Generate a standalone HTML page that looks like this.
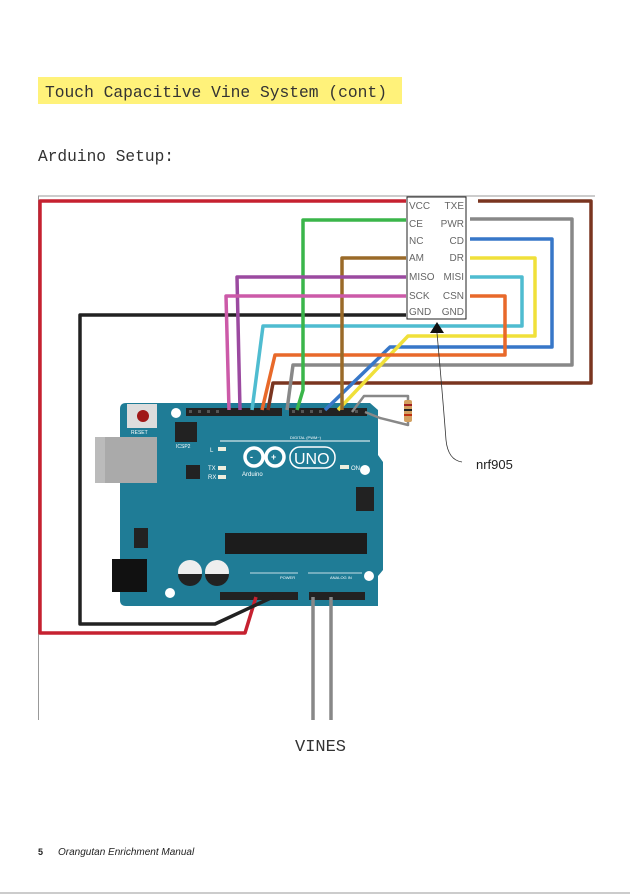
<!DOCTYPE html>
<html><head><style>
body{margin:0;background:#fff;}
svg{display:block}
</style></head><body>
<svg width="630" height="896" viewBox="0 0 630 896" xmlns="http://www.w3.org/2000/svg">
<rect x="38" y="77" width="364" height="27" fill="#fff27a"/>
<text x="45" y="97" font-family="Liberation Mono, monospace" font-size="16.3" fill="#333">Touch Capacitive Vine System (cont)</text>
<text x="38" y="161" font-family="Liberation Mono, monospace" font-size="16.2" fill="#333">Arduino Setup:</text>
<!-- frame -->
<line x1="38" y1="196" x2="595" y2="196" stroke="#999" stroke-width="1"/>
<line x1="38.5" y1="196" x2="38.5" y2="720" stroke="#999" stroke-width="1"/>

<!-- board -->
<path d="M126 403 H370 L378 410 V455 L383 462 V570 L378 576 V606 H126 Q120 606 120 600 V409 Q120 403 126 403 Z" fill="#1f7c96"/>
<rect x="95" y="437" width="62" height="46" fill="#aaa"/>
<rect x="95" y="437" width="10" height="46" fill="#bbb"/>
<rect x="127" y="404" width="30" height="24" fill="#ddd"/>
<circle cx="143" cy="416" r="6" fill="#a01818"/>
<text x="131" y="434" font-family="Liberation Sans, sans-serif" font-size="5" fill="#fff">RESET</text>
<circle cx="176" cy="413" r="5" fill="#fff"/>
<circle cx="365" cy="470" r="5" fill="#fff"/>
<circle cx="369" cy="576" r="5" fill="#fff"/>
<circle cx="170" cy="593" r="5" fill="#fff"/>
<rect x="186" y="408" width="96" height="8" fill="#222"/>
<rect x="289" y="408" width="78" height="8" fill="#222"/>
<g fill="#555"><rect x="189" y="410" width="3" height="3"/><rect x="198" y="410" width="3" height="3"/><rect x="207" y="410" width="3" height="3"/><rect x="216" y="410" width="3" height="3"/><rect x="292" y="410" width="3" height="3"/><rect x="301" y="410" width="3" height="3"/><rect x="310" y="410" width="3" height="3"/><rect x="319" y="410" width="3" height="3"/><rect x="355" y="410" width="3" height="3"/></g>
<rect x="175" y="422" width="22" height="20" fill="#222"/>
<text x="176" y="448" font-family="Liberation Sans, sans-serif" font-size="5" fill="#fff">ICSP2</text>
<line x1="220" y1="441" x2="370" y2="441" stroke="#fff" stroke-width="1"/>
<text x="290" y="439" font-family="Liberation Sans, sans-serif" font-size="4" fill="#fff">DIGITAL (PWM~)</text>
<rect x="186" y="465" width="14" height="14" fill="#222"/>
<text x="210" y="452" font-family="Liberation Sans, sans-serif" font-size="6" fill="#fff">L</text>
<text x="208" y="470" font-family="Liberation Sans, sans-serif" font-size="6" fill="#fff">TX</text>
<text x="208" y="479" font-family="Liberation Sans, sans-serif" font-size="6" fill="#fff">RX</text>
<rect x="218" y="447" width="8" height="4" fill="#eed"/><rect x="218" y="466" width="8" height="4" fill="#eed"/><rect x="218" y="475" width="8" height="4" fill="#eed"/>
<circle cx="254" cy="457" r="9" fill="none" stroke="#fff" stroke-width="3.5"/>
<circle cx="275" cy="457" r="9" fill="none" stroke="#fff" stroke-width="3.5"/>
<text x="250" y="460" font-family="Liberation Sans, sans-serif" font-size="9" fill="#fff" font-weight="bold">-</text>
<text x="271" y="460" font-family="Liberation Sans, sans-serif" font-size="9" fill="#fff" font-weight="bold">+</text>
<rect x="290" y="447" width="45" height="21" rx="10" fill="none" stroke="#fff" stroke-width="1.5"/>
<text x="294" y="464" font-family="Liberation Sans, sans-serif" font-size="16" fill="#fff">UNO</text>
<text x="242" y="476" font-family="Liberation Sans, sans-serif" font-size="6" fill="#fff">Arduino</text>
<rect x="340" y="465" width="9" height="4" fill="#eed"/>
<text x="351" y="470" font-family="Liberation Sans, sans-serif" font-size="6" fill="#fff">ON</text>
<rect x="356" y="487" width="18" height="24" fill="#222"/>
<rect x="225" y="533" width="142" height="21" fill="#1c1c1c"/>
<rect x="134" y="528" width="14" height="20" fill="#222"/>
<rect x="112" y="559" width="35" height="33" fill="#111"/>
<circle cx="190" cy="572" r="12" fill="#eee"/><path d="M178 574 H202 A12 12 0 0 1 178 574Z" fill="#222"/>
<circle cx="217" cy="572" r="12" fill="#eee"/><path d="M205 574 H229 A12 12 0 0 1 205 574Z" fill="#222"/>
<line x1="250" y1="573" x2="298" y2="573" stroke="#fff" stroke-width="0.8"/>
<line x1="308" y1="573" x2="362" y2="573" stroke="#fff" stroke-width="0.8"/>
<text x="280" y="579" font-family="Liberation Sans, sans-serif" font-size="4" fill="#fff">POWER</text>
<text x="330" y="579" font-family="Liberation Sans, sans-serif" font-size="4" fill="#fff">ANALOG IN</text>
<rect x="220" y="592" width="78" height="8" fill="#222"/>
<rect x="309" y="592" width="56" height="8" fill="#222"/>

<!-- wires -->
<g fill="none" stroke-width="3.5" stroke-linejoin="round">
<polyline points="406,201 40,201 40,633 245,633 256,597" stroke="#c62130"/>
<polyline points="406,315 80,315 80,624 215,624 273,597" stroke="#222"/>
<polyline points="478,201 591,201 591,383 273,383 268,410" stroke="#7a3520"/>
<polyline points="470,219 572,219 572,365 293,365 287,410" stroke="#888"/>
<polyline points="470,239 552,239 552,347 390,347 325,410" stroke="#3777c8"/>
<polyline points="470,258 535,258 535,336 408,336 338,410" stroke="#f0e03a"/>
<polyline points="470,277 522,277 522,326 263,326 252,410" stroke="#4fbcd0"/>
<polyline points="470,296 505,296 505,355 275,355 262,410" stroke="#e8692a"/>
<polyline points="406,220 303,220 303,390 297,410" stroke="#3ab54a"/>
<polyline points="406,258 342,258 342,410" stroke="#9a6a28"/>
<polyline points="406,277 237,277 240,410" stroke="#9b4aa0"/>
<polyline points="406,296 226,296 229,410" stroke="#cc5aa8"/>
<polyline points="352,412 364,396 408,396 408,425 380,418 365,412" stroke="#888" stroke-width="2.5"/>
<line x1="313" y1="597" x2="313" y2="720" stroke="#888"/>
<line x1="331" y1="597" x2="331" y2="720" stroke="#888"/>
</g>
<rect x="404" y="400" width="8" height="22" rx="2" fill="#d2a060"/>
<rect x="404" y="404" width="8" height="2" fill="#a02020"/><rect x="404" y="409" width="8" height="2" fill="#222"/><rect x="404" y="414" width="8" height="2" fill="#c03010"/>

<!-- module -->
<rect x="407" y="197" width="59" height="122" fill="#fff" stroke="#222" stroke-width="1"/>
<g font-family="Liberation Sans, sans-serif" font-size="10" fill="#666">
<text x="409" y="209">VCC</text><text x="409" y="227">CE</text><text x="409" y="244">NC</text><text x="409" y="261">AM</text><text x="409" y="280">MISO</text><text x="409" y="299">SCK</text><text x="409" y="315">GND</text>
<text x="464" y="209" text-anchor="end">TXE</text><text x="464" y="227" text-anchor="end">PWR</text><text x="464" y="244" text-anchor="end">CD</text><text x="464" y="261" text-anchor="end">DR</text><text x="464" y="280" text-anchor="end">MISI</text><text x="464" y="299" text-anchor="end">CSN</text><text x="464" y="315" text-anchor="end">GND</text>
</g>
<polygon points="437,322 430,333 444,333" fill="#111"/>
<path d="M437 333 Q443 400 446 440 Q448 460 462 462" fill="none" stroke="#333" stroke-width="0.8"/>
<text x="476" y="469" font-family="Liberation Sans, sans-serif" font-size="13" fill="#222">nrf905</text>

<text x="295" y="751" font-family="Liberation Mono, monospace" font-size="17" fill="#333">VINES</text>
<text x="38" y="855" font-family="Liberation Sans, sans-serif" font-size="9" fill="#222" font-weight="bold">5</text>
<text x="58" y="855" font-family="Liberation Sans, sans-serif" font-size="10" font-style="italic" fill="#222">Orangutan Enrichment Manual</text>
<line x1="0" y1="893" x2="630" y2="893" stroke="#999" stroke-width="1"/>
</svg>
</body></html>
